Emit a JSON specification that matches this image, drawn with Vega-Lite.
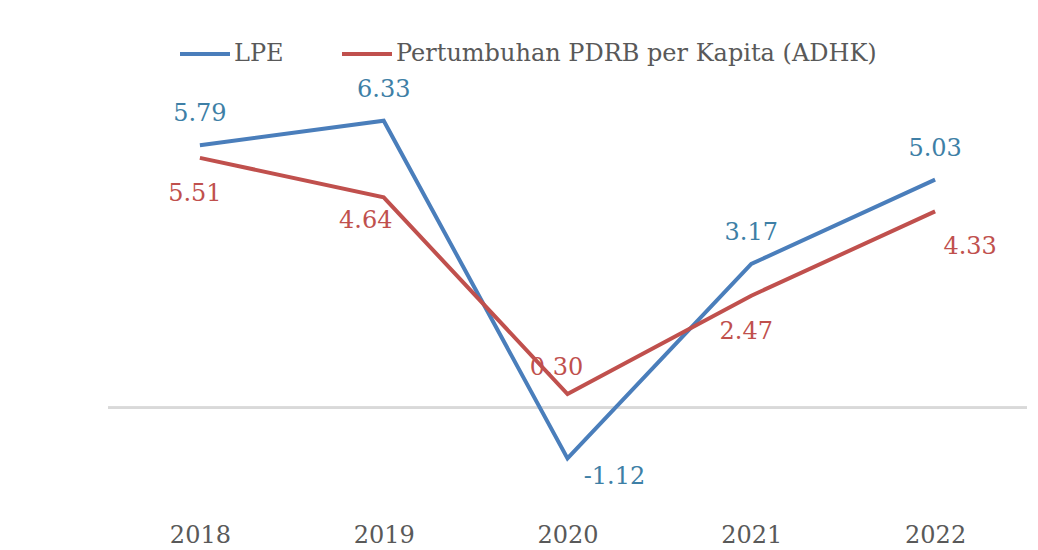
{
  "$schema": "https://vega.github.io/schema/vega-lite/v6.json",
  "width": 919,
  "height": 476,
  "autosize": "none",
  "padding": {"left": 108, "top": 45, "right": 11, "bottom": 29},
  "background": "white",
  "config": {"view": {"stroke": null}, "font": "DejaVu Serif"},
  "data": {"values": [
    {"year": "2018", "series": "LPE", "value": 5.79, "label": "5.79"},
    {"year": "2019", "series": "LPE", "value": 6.33, "label": "6.33"},
    {"year": "2020", "series": "LPE", "value": -1.12, "label": "-1.12"},
    {"year": "2021", "series": "LPE", "value": 3.17, "label": "3.17"},
    {"year": "2022", "series": "LPE", "value": 5.03, "label": "5.03"},
    {"year": "2018", "series": "Pertumbuhan PDRB per Kapita (ADHK)", "value": 5.51, "label": "5.51"},
    {"year": "2019", "series": "Pertumbuhan PDRB per Kapita (ADHK)", "value": 4.64, "label": "4.64"},
    {"year": "2020", "series": "Pertumbuhan PDRB per Kapita (ADHK)", "value": 0.30, "label": "0.30"},
    {"year": "2021", "series": "Pertumbuhan PDRB per Kapita (ADHK)", "value": 2.47, "label": "2.47"},
    {"year": "2022", "series": "Pertumbuhan PDRB per Kapita (ADHK)", "value": 4.33, "label": "4.33"}
  ]},
  "encoding": {
    "x": {"field": "year", "type": "ordinal", "scale": {"type": "point", "padding": 0.5},
      "axis": {"title": null, "labelAngle": 0, "domain": false, "ticks": false, "labelFontSize": 24, "labelColor": "#595959", "labelPadding": 2, "labelFont": "DejaVu Serif"}},
    "y": {"field": "value", "type": "quantitative", "scale": {"domain": [-2.5, 8], "nice": false, "zero": false}, "axis": null}
  },
  "layer": [
    {"mark": {"type": "rule", "color": "#d9d9d9", "strokeWidth": 2}, "encoding": {"x": null, "y": {"datum": 0, "type": "quantitative"}}},
    {"mark": {"type": "line", "strokeWidth": 4},
      "encoding": {"color": {"field": "series", "type": "nominal",
        "scale": {"domain": ["LPE", "Pertumbuhan PDRB per Kapita (ADHK)"], "range": ["#4a7ebb", "#c0504d"]},
        "legend": {"title": null, "orient": "none", "direction": "horizontal", "legendX": 70, "legendY": -18,
          "symbolType": "stroke", "symbolSize": 2500, "symbolStrokeWidth": 4, "labelFontSize": 24, "labelColor": "#595959", "labelFont": "DejaVu Serif", "labelLimit": 0, "columnPadding": 50, "labelOffset": 2}}}},
    {"transform": [{"filter": "datum.series == 'LPE' && datum.year != '2020'"}],
      "mark": {"type": "text", "fontSize": 24, "color": "#3e7fa6", "dy": -31},
      "encoding": {"text": {"field": "label"}}},
    {"transform": [{"filter": "datum.series == 'LPE' && datum.year == '2020'"}],
      "mark": {"type": "text", "fontSize": 24, "color": "#3e7fa6", "dx": 47, "dy": 19},
      "encoding": {"text": {"field": "label"}}},
    {"transform": [{"filter": "datum.series != 'LPE' && (datum.year == '2018' || datum.year == '2021')"}],
      "mark": {"type": "text", "fontSize": 24, "color": "#c0504d", "dx": -5, "dy": 36},
      "encoding": {"text": {"field": "label"}}},
    {"transform": [{"filter": "datum.series != 'LPE' && datum.year == '2019'"}],
      "mark": {"type": "text", "fontSize": 24, "color": "#c0504d", "dx": -18, "dy": 24},
      "encoding": {"text": {"field": "label"}}},
    {"transform": [{"filter": "datum.series != 'LPE' && datum.year == '2020'"}],
      "mark": {"type": "text", "fontSize": 24, "color": "#c0504d", "dx": -11, "dy": -26},
      "encoding": {"text": {"field": "label"}}},
    {"transform": [{"filter": "datum.series != 'LPE' && datum.year == '2022'"}],
      "mark": {"type": "text", "fontSize": 24, "color": "#c0504d", "dx": 35, "dy": 36},
      "encoding": {"text": {"field": "label"}}}
  ]
}
